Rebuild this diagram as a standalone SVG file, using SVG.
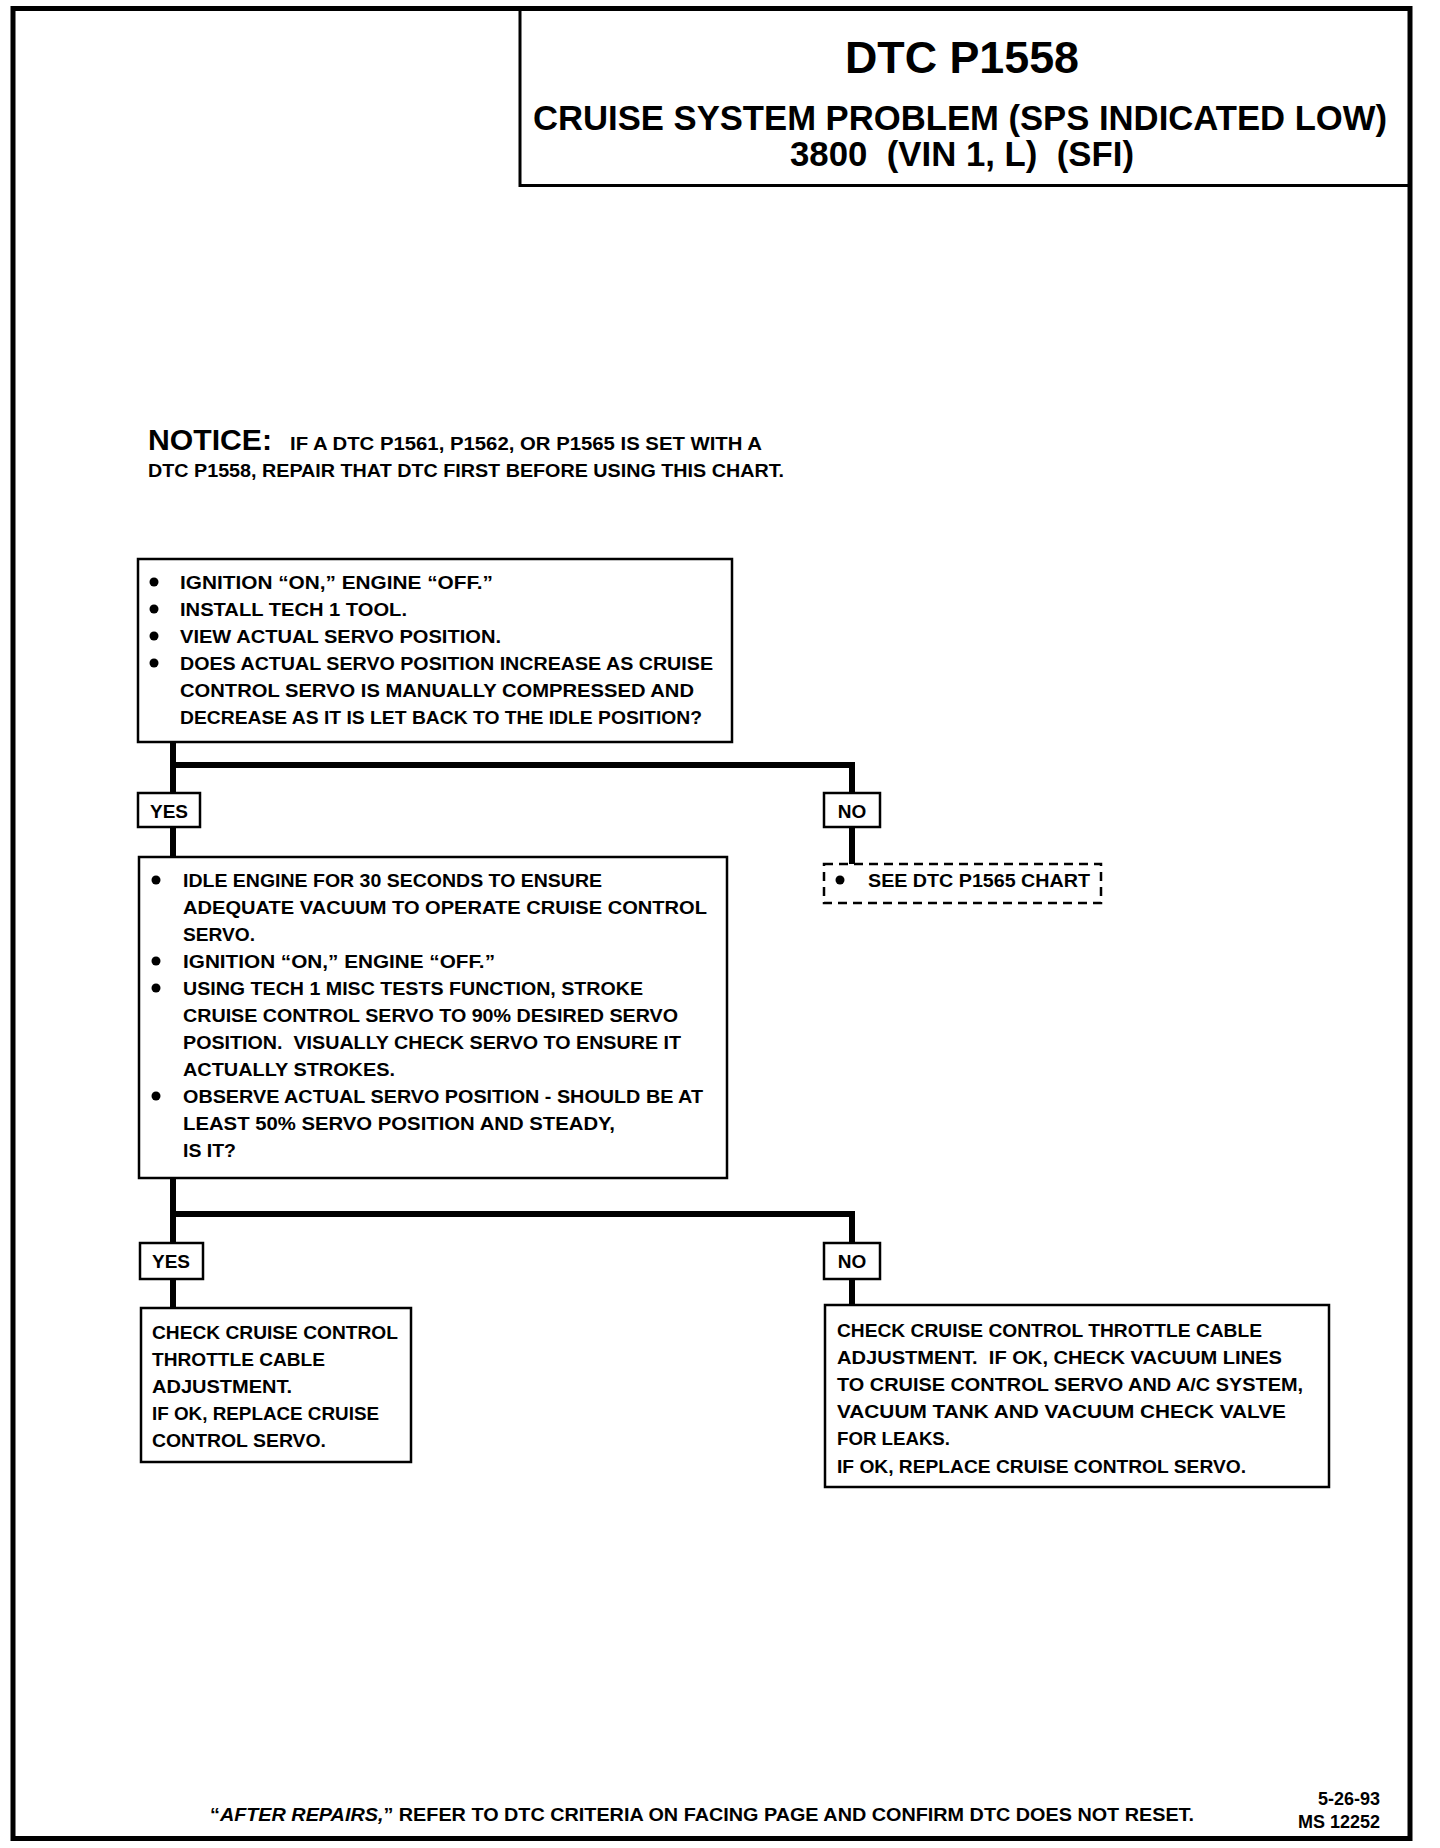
<svg xmlns="http://www.w3.org/2000/svg" width="1440" height="1848" viewBox="0 0 1440 1848">
<style>
.t{font-family:"Liberation Sans",Arial,sans-serif;font-weight:bold;font-size:19px;fill:#000;white-space:pre}
.box{fill:#fff;stroke:#000;stroke-width:2.5}
.dash{fill:#fff;stroke:#000;stroke-width:2.5;stroke-dasharray:9 6}
.con{fill:none;stroke:#000;stroke-width:6;stroke-linejoin:miter;stroke-linecap:square}
.lbl{text-anchor:middle}
</style>
<rect width="1440" height="1848" fill="#fff"/>
<rect x="13" y="8.5" width="1397" height="1830" fill="none" stroke="#000" stroke-width="5"/>

<g id="title">
<rect x="520" y="8.5" width="890" height="177" fill="none" stroke="#000" stroke-width="3"/>
<text class="t" x="962" y="73" text-anchor="middle" style="font-size:45px" textLength="234" lengthAdjust="spacingAndGlyphs">DTC P1558</text>
<text class="t" x="960" y="130" text-anchor="middle" style="font-size:35px" textLength="854" lengthAdjust="spacingAndGlyphs">CRUISE SYSTEM PROBLEM (SPS INDICATED LOW)</text>
<text class="t" x="962" y="166" text-anchor="middle" style="font-size:35px" textLength="344" lengthAdjust="spacingAndGlyphs">3800  (VIN 1, L)  (SFI)</text>
</g>

<g id="notice">
<text class="t" x="148" y="450" style="font-size:29px" textLength="124" lengthAdjust="spacingAndGlyphs">NOTICE:</text>
<text class="t" x="290" y="450" style="font-size:18px" textLength="472" lengthAdjust="spacingAndGlyphs">IF A DTC P1561, P1562, OR P1565 IS SET WITH A</text>
<text class="t" x="148" y="477" style="font-size:18px" textLength="636" lengthAdjust="spacingAndGlyphs">DTC P1558, REPAIR THAT DTC FIRST BEFORE USING THIS CHART.</text>
</g>

<g id="connectors">
<polyline class="con" points="173,742 173,793"/>
<polyline class="con" points="173,765 852,765 852,793"/>
<polyline class="con" points="173,827 173,857"/>
<polyline class="con" points="852,827 852,864"/>
<polyline class="con" points="173,1178 173,1243"/>
<polyline class="con" points="173,1214 852,1214 852,1243"/>
<polyline class="con" points="173,1279 173,1308"/>
<polyline class="con" points="852,1279 852,1305"/>
</g>

<g id="step1">
<rect class="box" x="138" y="559" width="594" height="183"/>
<circle cx="154" cy="582" r="4.5"/>
<circle cx="154" cy="609" r="4.5"/>
<circle cx="154" cy="636" r="4.5"/>
<circle cx="154" cy="663" r="4.5"/>
<text class="t" x="180" y="589" textLength="313" lengthAdjust="spacingAndGlyphs">IGNITION “ON,” ENGINE “OFF.”</text>
<text class="t" x="180" y="616" textLength="227" lengthAdjust="spacingAndGlyphs">INSTALL TECH 1 TOOL.</text>
<text class="t" x="180" y="643" textLength="321" lengthAdjust="spacingAndGlyphs">VIEW ACTUAL SERVO POSITION.</text>
<text class="t" x="180" y="670" textLength="533" lengthAdjust="spacingAndGlyphs">DOES ACTUAL SERVO POSITION INCREASE AS CRUISE</text>
<text class="t" x="180" y="697" textLength="514" lengthAdjust="spacingAndGlyphs">CONTROL SERVO IS MANUALLY COMPRESSED AND</text>
<text class="t" x="180" y="724" textLength="522" lengthAdjust="spacingAndGlyphs">DECREASE AS IT IS LET BACK TO THE IDLE POSITION?</text>
</g>

<g id="yes1">
<rect class="box" x="138" y="793" width="62" height="34"/>
<text class="t lbl" x="169" y="818">YES</text>
</g>
<g id="no1">
<rect class="box" x="824" y="793" width="56" height="34"/>
<text class="t lbl" x="852" y="818">NO</text>
</g>

<g id="see-p1565">
<rect class="dash" x="824" y="864" width="277" height="39"/>
<circle cx="840" cy="880" r="4.5"/>
<text class="t" x="868" y="887" textLength="222" lengthAdjust="spacingAndGlyphs">SEE DTC P1565 CHART</text>
</g>

<g id="step2">
<rect class="box" x="139" y="857" width="588" height="321"/>
<circle cx="156" cy="880" r="4.5"/>
<circle cx="156" cy="961" r="4.5"/>
<circle cx="156" cy="988" r="4.5"/>
<circle cx="156" cy="1096" r="4.5"/>
<text class="t" x="183" y="887" textLength="419" lengthAdjust="spacingAndGlyphs">IDLE ENGINE FOR 30 SECONDS TO ENSURE</text>
<text class="t" x="183" y="914" textLength="524" lengthAdjust="spacingAndGlyphs">ADEQUATE VACUUM TO OPERATE CRUISE CONTROL</text>
<text class="t" x="183" y="941" textLength="72" lengthAdjust="spacingAndGlyphs">SERVO.</text>
<text class="t" x="183" y="968" textLength="312" lengthAdjust="spacingAndGlyphs">IGNITION “ON,” ENGINE “OFF.”</text>
<text class="t" x="183" y="995" textLength="460" lengthAdjust="spacingAndGlyphs">USING TECH 1 MISC TESTS FUNCTION, STROKE</text>
<text class="t" x="183" y="1022" textLength="495" lengthAdjust="spacingAndGlyphs">CRUISE CONTROL SERVO TO 90% DESIRED SERVO</text>
<text class="t" x="183" y="1049" textLength="498" lengthAdjust="spacingAndGlyphs">POSITION.  VISUALLY CHECK SERVO TO ENSURE IT</text>
<text class="t" x="183" y="1076" textLength="212" lengthAdjust="spacingAndGlyphs">ACTUALLY STROKES.</text>
<text class="t" x="183" y="1103" textLength="520" lengthAdjust="spacingAndGlyphs">OBSERVE ACTUAL SERVO POSITION - SHOULD BE AT</text>
<text class="t" x="183" y="1130" textLength="432" lengthAdjust="spacingAndGlyphs">LEAST 50% SERVO POSITION AND STEADY,</text>
<text class="t" x="183" y="1157" textLength="53" lengthAdjust="spacingAndGlyphs">IS IT?</text>
</g>

<g id="yes2">
<rect class="box" x="140" y="1243" width="63" height="36"/>
<text class="t lbl" x="171" y="1268">YES</text>
</g>
<g id="no2">
<rect class="box" x="824" y="1243" width="56" height="36"/>
<text class="t lbl" x="852" y="1268">NO</text>
</g>

<g id="replace-servo">
<rect class="box" x="141" y="1308" width="270" height="154"/>
<text class="t" x="152" y="1339" textLength="246" lengthAdjust="spacingAndGlyphs">CHECK CRUISE CONTROL</text>
<text class="t" x="152" y="1366" textLength="173" lengthAdjust="spacingAndGlyphs">THROTTLE CABLE</text>
<text class="t" x="152" y="1393" textLength="140" lengthAdjust="spacingAndGlyphs">ADJUSTMENT.</text>
<text class="t" x="152" y="1420" textLength="227" lengthAdjust="spacingAndGlyphs">IF OK, REPLACE CRUISE</text>
<text class="t" x="152" y="1447" textLength="174" lengthAdjust="spacingAndGlyphs">CONTROL SERVO.</text>
</g>

<g id="check-vacuum">
<rect class="box" x="825" y="1305" width="504" height="182"/>
<text class="t" x="837" y="1337" textLength="425" lengthAdjust="spacingAndGlyphs">CHECK CRUISE CONTROL THROTTLE CABLE</text>
<text class="t" x="837" y="1364" textLength="445" lengthAdjust="spacingAndGlyphs">ADJUSTMENT.  IF OK, CHECK VACUUM LINES</text>
<text class="t" x="837" y="1391" textLength="466" lengthAdjust="spacingAndGlyphs">TO CRUISE CONTROL SERVO AND A/C SYSTEM,</text>
<text class="t" x="837" y="1418" textLength="449" lengthAdjust="spacingAndGlyphs">VACUUM TANK AND VACUUM CHECK VALVE</text>
<text class="t" x="837" y="1445" textLength="113" lengthAdjust="spacingAndGlyphs">FOR LEAKS.</text>
<text class="t" x="837" y="1473" textLength="409" lengthAdjust="spacingAndGlyphs">IF OK, REPLACE CRUISE CONTROL SERVO.</text>
</g>

<g id="footer">
<text class="t" x="210" y="1821" textLength="984" lengthAdjust="spacingAndGlyphs">“<tspan font-style="italic">AFTER REPAIRS,</tspan>” REFER TO DTC CRITERIA ON FACING PAGE AND CONFIRM DTC DOES NOT RESET.</text>
<text class="t" x="1380" y="1805" text-anchor="end" style="font-size:18px">5-26-93</text>
<text class="t" x="1380" y="1828" text-anchor="end" style="font-size:18px">MS 12252</text>
</g>
</svg>
